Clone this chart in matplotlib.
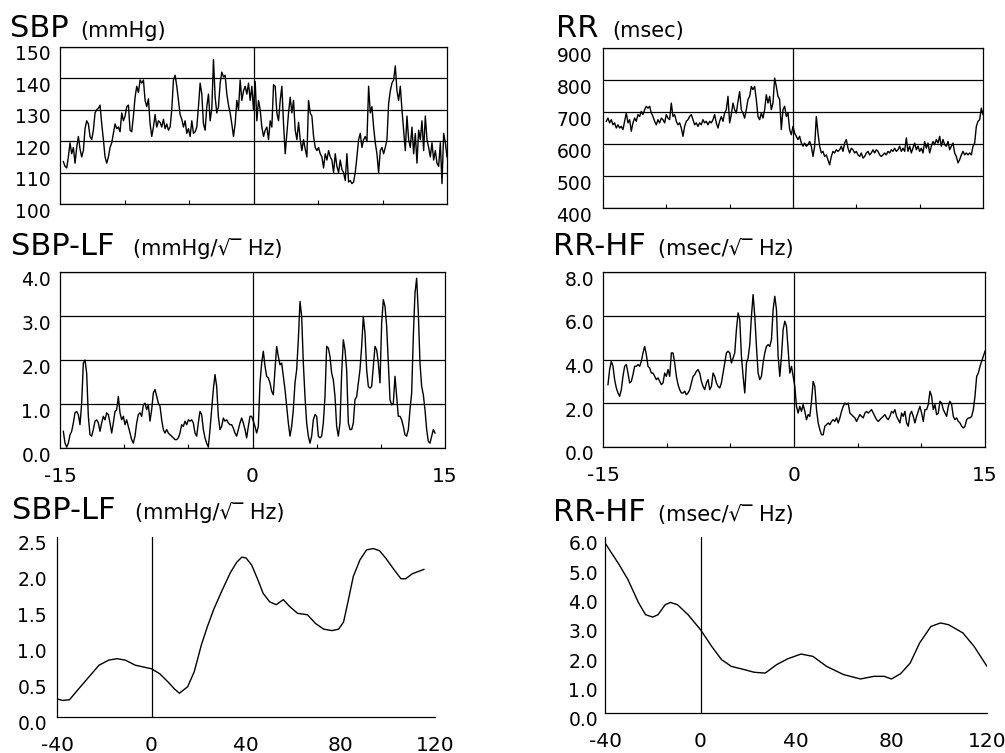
import numpy as np
import matplotlib
matplotlib.use("Agg")
import matplotlib.pyplot as plt
from matplotlib.transforms import ScaledTranslation

# ---------------- data ----------------
# SBP (mmHg), 30-min window centred on event (minutes)
sbp_t_range = (-14.74, 15.0)
sbp = [113.5, 112, 111.5, 115, 119.5, 116, 118, 113, 118, 121.5,
       117.5, 115, 117, 124, 126.5, 125.5, 121.5, 120.5, 123.5, 129,
       130, 130.5, 131.5, 125.5, 120.5, 115, 113, 115, 118, 119.5,
       122.5, 125.5, 124, 124.5, 123, 129, 126.5, 128, 131, 131.5,
       123.5, 123, 128, 134, 137.5, 135.5, 139.5, 138.5, 139.5, 133,
       131, 133.5, 125.5, 121.5, 124.5, 128.5, 124.5, 126.5, 126, 124.5,
       127, 124, 125.5, 123.5, 124.5, 130, 139.5, 141, 137.5, 133,
       128.5, 127, 124.5, 126.5, 122.5, 124, 121.5, 126.5, 122.5, 123,
       124.5, 131, 138.5, 135, 125.5, 123.5, 131, 135, 126.5, 130.5,
       146, 134, 129, 131, 138.5, 142, 140.5, 141, 135, 131.5,
       129, 125.5, 121.5, 125.5, 133, 130, 139.5, 133, 136, 137.5,
       135, 138.5, 133, 137.5, 130, 139, 126.5, 133, 130, 124.5,
       121.5, 123.5, 124.5, 120.5, 126.5, 124.5, 138, 137.5, 129, 126.5,
       133, 137.5, 125.5, 116, 122.5, 129, 134, 129, 133, 123.5,
       120.5, 126, 120.5, 117, 120.5, 117.5, 115, 133, 129, 128,
       121.5, 118, 117, 118, 116, 115, 111.5, 116, 114, 117,
       115, 114, 110, 116, 112, 110, 114, 111, 110, 107.5,
       116, 107, 107.5, 106.5, 107, 110, 115, 120.5, 122.5, 118,
       120.5, 121.5, 120, 137.5, 129, 131, 124.5, 119.5, 116, 110,
       117, 118, 116, 118, 120.5, 132, 136, 138.5, 139.5, 144,
       136, 133, 137.5, 130, 123.5, 117, 128, 120.5, 118, 124.5,
       116, 122.5, 113, 123.5, 120.5, 126.5, 117, 128, 120.5, 118,
       115, 119.5, 114, 117, 113, 112, 119.5, 106.5, 122.5, 119.5,
       115]

rr_t_range = (-14.74, 15.0)
rr = [671, 681, 666, 676, 660, 666, 650, 660, 650, 655,
      645, 671, 697, 666, 676, 640, 666, 681, 671, 692,
      686, 702, 692, 707, 718, 712, 718, 697, 686, 671,
      660, 676, 666, 681, 676, 666, 692, 681, 676, 728,
      686, 692, 671, 660, 666, 650, 624, 655, 671, 676,
      686, 692, 676, 660, 666, 655, 666, 660, 676, 666,
      671, 660, 671, 666, 676, 692, 666, 650, 671, 686,
      671, 697, 707, 749, 666, 692, 728, 707, 697, 733,
      764, 707, 697, 681, 707, 739, 749, 780, 770, 780,
      739, 686, 676, 697, 681, 707, 754, 728, 749, 707,
      728, 806, 780, 749, 739, 645, 707, 718, 686, 697,
      645, 629, 655, 634, 624, 614, 624, 603, 593, 603,
      593, 598, 608, 593, 561, 593, 686, 634, 593, 572,
      577, 561, 566, 551, 535, 561, 577, 572, 582, 577,
      582, 593, 577, 603, 614, 587, 572, 587, 582, 572,
      577, 566, 561, 572, 556, 561, 572, 577, 566, 572,
      582, 572, 582, 577, 566, 561, 566, 572, 566, 577,
      572, 582, 577, 587, 577, 582, 593, 577, 587, 577,
      619, 577, 593, 572, 587, 603, 582, 593, 577, 587,
      572, 608, 587, 603, 572, 593, 608, 598, 614, 603,
      624, 593, 614, 598, 593, 608, 582, 593, 603, 572,
      561, 541, 551, 566, 577, 566, 572, 566, 572, 566,
      593, 603, 655, 671, 676, 712, 692]

sbplf_t_range = (-14.74, 14.22)
sbp_lf = [0.38, 0.11, 0.02, 0.11, 0.30, 0.38, 0.57, 0.80, 0.83, 0.76,
          0.53, 1.02, 1.93, 2.0, 1.70, 0.72, 0.30, 0.27, 0.42, 0.61,
          0.64, 0.57, 0.38, 0.57, 0.72, 0.64, 0.80, 0.76, 0.57, 0.34,
          0.57, 0.83, 0.87, 1.17, 0.80, 0.64, 0.72, 0.53, 0.64, 0.49,
          0.34, 0.19, 0.11, 0.27, 0.57, 0.76, 0.80, 0.72, 0.98, 1.02,
          0.87, 0.98, 0.61, 0.87, 1.25, 1.33, 1.17, 1.02, 0.95, 0.64,
          0.42, 0.34, 0.42, 0.34, 0.30, 0.27, 0.23, 0.19, 0.19, 0.23,
          0.34, 0.53, 0.49, 0.61, 0.53, 0.64, 0.61, 0.64, 0.57, 0.34,
          0.27, 0.57, 0.83, 0.76, 0.42, 0.23, 0.11, 0.02, 0.42, 0.87,
          1.33, 1.67, 1.40, 0.72, 0.42, 0.49, 0.68, 0.61, 0.64, 0.57,
          0.53, 0.53, 0.45, 0.34, 0.27, 0.42, 0.57, 0.68, 0.57, 0.42,
          0.23, 0.49, 0.72, 0.72, 0.61, 0.49, 0.34, 0.49, 1.48, 1.93,
          2.20, 1.86, 1.63, 1.59, 1.48, 1.29, 1.21, 1.78, 2.31, 2.08,
          1.89, 1.93, 1.63, 1.33, 0.95, 0.57, 0.27, 0.49, 0.87, 1.48,
          1.78, 2.46, 3.33, 2.99, 1.93, 1.17, 0.57, 0.27, 0.11, 0.27,
          0.64, 0.76, 0.72, 0.27, 0.23, 0.27, 0.57, 1.17, 2.31, 2.27,
          2.08, 1.70, 1.55, 1.17, 0.49, 0.27, 0.57, 1.70, 2.46, 2.23,
          1.78, 0.57, 0.42, 0.42, 0.57, 1.10, 1.17, 1.48, 1.78, 2.31,
          2.99, 2.61, 1.78, 1.40, 1.36, 1.40, 1.86, 2.31, 2.23, 1.93,
          1.48, 2.84, 3.37, 3.22, 2.77, 1.93, 1.10, 0.98, 1.02, 1.63,
          1.17, 0.72, 0.72, 0.64, 0.49, 0.30, 0.27, 0.42, 0.87, 1.25,
          2.54, 3.52, 3.86, 3.07, 1.93, 1.40, 1.21, 0.87, 0.42, 0.15,
          0.11, 0.27, 0.42, 0.34]

rrhf_t_range = (-14.61, 15.0)
rr_hf = [2.85, 3.54, 3.92, 3.69, 3.08, 2.70, 2.47, 2.32, 2.62, 3.23,
         3.69, 3.77, 3.38, 2.93, 3.00, 3.31, 3.69, 3.69, 3.77, 3.69,
         3.92, 4.30, 4.60, 4.22, 3.69, 3.61, 3.38, 3.38, 3.23, 3.08,
         3.16, 3.00, 2.85, 2.93, 3.38, 3.23, 3.54, 3.23, 4.30, 4.30,
         3.84, 3.23, 2.85, 2.62, 2.47, 2.47, 2.55, 2.39, 2.47, 2.62,
         2.93, 3.23, 3.31, 3.46, 3.54, 3.38, 3.00, 2.77, 2.62, 2.93,
         3.08, 2.62, 2.77, 3.38, 3.23, 2.93, 2.77, 2.70, 2.93, 3.38,
         3.84, 4.30, 4.38, 4.30, 3.84, 4.07, 4.30, 5.37, 6.13, 5.82,
         4.15, 3.23, 2.47, 3.84, 4.07, 4.68, 5.98, 6.97, 5.98, 4.60,
         3.38, 3.08, 3.23, 3.84, 4.30, 4.60, 4.68, 4.60, 4.91, 6.28,
         6.89, 6.28, 4.15, 3.23, 4.15, 5.37, 5.75, 5.52, 4.45, 3.38,
         3.69, 3.23, 2.77, 1.86, 1.55, 1.86, 1.63, 1.94, 1.63, 1.25,
         1.48, 1.40, 2.09, 3.00, 2.77, 1.71, 1.10, 0.79, 0.56, 0.56,
         0.95, 1.02, 1.10, 1.02, 1.17, 1.25, 1.17, 1.33, 1.10, 1.33,
         1.63, 1.86, 2.01, 1.94, 2.01, 1.55, 1.48, 1.40, 1.33, 1.17,
         1.33, 1.48, 1.40, 1.33, 1.55, 1.63, 1.55, 1.63, 1.71, 1.55,
         1.40, 1.25, 1.17, 1.25, 1.33, 1.40, 1.48, 1.33, 1.25, 1.40,
         1.63, 1.55, 1.71, 1.40, 1.25, 1.10, 1.55, 1.40, 1.63, 1.10,
         0.95, 1.48, 1.63, 1.40, 1.10, 1.40, 1.63, 1.86, 1.55, 1.17,
         1.71, 1.71, 1.94, 2.55, 2.32, 1.71, 1.94, 1.48, 1.55, 2.09,
         2.01, 1.71, 1.55, 1.40, 1.86, 2.09, 1.94, 1.40, 1.25, 1.33,
         1.17, 1.10, 0.95, 0.87, 0.95, 1.25, 1.33, 1.33, 1.40, 1.71,
         2.32, 3.23, 3.38, 3.69, 3.92, 4.15, 4.38]

# smoothed trends (x in minutes relative to event)
lf_trend_x = [-40, -37.5, -34.7, -30.6, -26.4, -22.2, -18.1, -14.6, -11.1, -6.9,
              -2.8, 0, 3.5, 6.9, 9.7, 11.8, 15.3, 18.1, 21.1, 23.6,
              26.4, 29.9, 33.3, 36.1, 38.2, 40, 42.4, 45.1, 47.2, 50,
              52.8, 55.8, 58.3, 61.8, 66, 69.4, 72.9, 76.4, 79.2, 81.3,
              83.3, 85.4, 88.2, 91, 93.8, 96.5, 99.3, 102.8, 105.6, 107.6,
              110.4, 115.3]
lf_trend_y = [0.25, 0.23, 0.24, 0.40, 0.56, 0.72, 0.79, 0.81, 0.79, 0.72,
              0.69, 0.67, 0.60, 0.49, 0.39, 0.33, 0.42, 0.63, 1.00, 1.25,
              1.50, 1.76, 2.00, 2.15, 2.22, 2.21, 2.11, 1.90, 1.72, 1.60,
              1.56, 1.63, 1.54, 1.44, 1.42, 1.30, 1.22, 1.20, 1.22, 1.32,
              1.62, 1.95, 2.18, 2.32, 2.34, 2.31, 2.20, 2.04, 1.92, 1.92,
              1.99, 2.05]

hf_trend_x = [-40, -34.1, -30.4, -25.9, -23.0, -20.0, -17.8, -14.8, -12.6, -9.6,
              -5.2, 0, 4.7, 8.8, 12.9, 18.3, 22.4, 27.1, 31.9, 36.6,
              42.1, 47.1, 52.8, 59.9, 67, 72.6, 76.9, 80, 83.8, 87.8,
              91.8, 96.5, 100.5, 103.9, 109.9, 114.6, 120]
hf_trend_y = [5.80, 5.06, 4.55, 3.75, 3.35, 3.27, 3.35, 3.69, 3.77, 3.69,
              3.35, 2.84, 2.27, 1.82, 1.59, 1.48, 1.39, 1.36, 1.65, 1.85,
              2.01, 1.93, 1.59, 1.31, 1.16, 1.25, 1.25, 1.16, 1.34, 1.70,
              2.39, 2.95, 3.07, 3.01, 2.73, 2.27, 1.59]

# ---------------- figure ----------------
W, H = 1005, 753
fig = plt.figure(figsize=(W / 100, H / 100), dpi=100)
plt.rcParams['font.family'] = ['DejaVu Sans']

YTICK_FS = 13.5
XTICK_FS = 14.5
LW = 1.0


def add_ax(l, t, r, b):
    return fig.add_axes([l / W, 1 - b / H, (r - l) / W, (b - t) / H])


def px2pt(p):
    return p * 72 / 100


def shift_ylabels(ax, dy_px):
    off = ScaledTranslation(0, -dy_px / 100, fig.dpi_scale_trans)
    for lab in ax.get_yticklabels():
        lab.set_transform(lab.get_transform() + off)


def boxed(ax, ylim, yt, ylab, ypad, xlabels=None, xpad=19):
    ax.set_xlim(-15, 15)
    ax.set_ylim(*ylim)
    ax.set_yticks(yt)
    ax.set_yticklabels(ylab, fontsize=YTICK_FS)
    if xlabels:
        ax.set_xticks([-15, 0, 15])
        ax.set_xticklabels(xlabels, fontsize=XTICK_FS)
    else:
        ax.set_xticks([])
    ax.set_xticks([-10, -5, 5, 10], minor=True)
    ax.tick_params(axis='x', which='major', length=0, pad=px2pt(xpad))
    ax.tick_params(axis='x', which='minor', direction='in', length=3, width=0.8)
    ax.tick_params(axis='y', which='both', length=0, pad=px2pt(ypad))
    ax.yaxis.grid(True, color='black', lw=0.9)
    for s in ax.spines.values():
        s.set_linewidth(0.9)
        s.set_color('black')
    ax.axvline(0, color='black', lw=0.9)
    shift_ylabels(ax, 6)


def open_ax(ax, ylim, yt, ylab, ypad):
    ax.set_xlim(-40, 120)
    ax.set_ylim(*ylim)
    ax.set_yticks(yt)
    ax.set_yticklabels(ylab, fontsize=YTICK_FS)
    ax.set_yticks([ylim[1]], minor=True)
    ax.set_xticks([-40, 0, 40, 80, 120])
    ax.set_xticklabels(['-40', '0', '40', '80', '120'], fontsize=XTICK_FS)
    ax.set_xticks([40, 80], minor=True)
    ax.tick_params(axis='x', which='major', length=0, pad=px2pt(19))
    ax.tick_params(axis='x', which='minor', direction='in', length=4, width=0.8)
    ax.tick_params(axis='y', which='major', length=0, pad=px2pt(ypad))
    ax.tick_params(axis='y', which='minor', direction='out', length=3, width=0.8)
    ax.spines['top'].set_visible(False)
    ax.spines['right'].set_visible(False)
    for k in ('left', 'bottom'):
        ax.spines[k].set_linewidth(0.9)
    ax.axvline(0, color='black', lw=0.9)
    shift_ylabels(ax, 6)


def title(xb, xs, yb, big, small):
    fig.text(xb / W, 1 - yb / H, big, fontsize=22, va='baseline', ha='left')
    fig.text(xs / W, 1 - yb / H, small, fontsize=15, va='baseline', ha='left')


unit_lf = '(mmHg/\u221a\u203e Hz)'
unit_hf = '(msec/\u221a\u203e Hz)'

# Top-left: SBP
ax = add_ax(60, 47, 447, 204)
boxed(ax, (100, 150), [100, 110, 120, 130, 140, 150],
      ['100', '110', '120', '130', '140', '150'], ypad=9)
ax.plot(np.linspace(*sbp_t_range, len(sbp)), sbp, color='black', lw=LW)
title(10, 80, 37, 'SBP', '(mmHg)')

# Top-right: RR
ax = add_ax(603, 48, 983, 208)
boxed(ax, (400, 900), [400, 500, 600, 700, 800, 900],
      ['400', '500', '600', '700', '800', '900'], ypad=11)
ax.plot(np.linspace(*rr_t_range, len(rr)), rr, color='black', lw=LW)
title(556, 612, 37, 'RR', '(msec)')

# Middle-left: SBP-LF
ax = add_ax(60, 272, 445, 448)
boxed(ax, (0, 4), [0, 1, 2, 3, 4], ['0.0', '1.0', '2.0', '3.0', '4.0'],
      ypad=9, xlabels=['-15', '0', '15'])
ax.plot(np.linspace(*sbplf_t_range, len(sbp_lf)), sbp_lf, color='black', lw=LW)
title(11, 133, 255, 'SBP-LF', unit_lf)

# Middle-right: RR-HF
ax = add_ax(603, 272, 985, 447)
boxed(ax, (0, 8), [0, 2, 4, 6, 8], ['0.0', '2.0', '4.0', '6.0', '8.0'],
      ypad=9, xlabels=['-15', '0', '15'])
ax.plot(np.linspace(*rrhf_t_range, len(rr_hf)), rr_hf, color='black', lw=LW)
title(553, 658, 255, 'RR-HF', unit_hf)

# Bottom-left: SBP-LF trend
ax = add_ax(57, 537, 435, 717)
open_ax(ax, (0, 2.5), [0, 0.5, 1, 1.5, 2, 2.5],
        ['0.0', '0.5', '1.0', '1.5', '2.0', '2.5'], ypad=10)
ax.plot(lf_trend_x, lf_trend_y, color='black', lw=LW)
title(12, 135, 519, 'SBP-LF', unit_lf)

# Bottom-right: RR-HF trend
ax = add_ax(605, 537, 987, 713)
open_ax(ax, (0, 6), [0, 1, 2, 3, 4, 5, 6],
        ['0.0', '1.0', '2.0', '3.0', '4.0', '5.0', '6.0'], ypad=7)
ax.plot(hf_trend_x, hf_trend_y, color='black', lw=LW)
title(553, 658, 521, 'RR-HF', unit_hf)

fig.savefig('out.png', dpi=100)
